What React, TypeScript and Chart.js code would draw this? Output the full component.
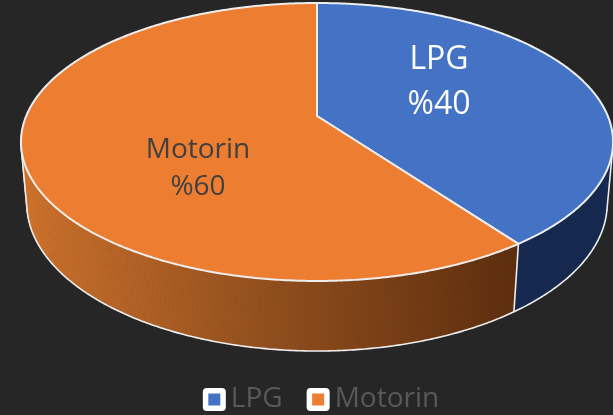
import React, { useEffect, useRef } from "react";
import { Chart, registerables } from "chart.js";

Chart.register(...registerables);

const categories = ["LPG", "Motorin"];
const shares = [40, 60];
const shareLabels = ["%40", "%60"];
const sliceColors = ["#4472C4", "#ED7D31"];
const labelColors = ["#FFFFFF", "#404040"];
const labelFontSizes = [32, 28];
const labelOffsets = [[122, -56, -11], [-119, 34, 71]]; // x, first line y, second line y (from apex)

const BG = "#262626";
const EDGE = "#EDEDED";
const FONT = "'Open Sans', sans-serif";
const LEGEND_COLOR = "#595959";
const LEGEND_SIZE = 28;
const LEGEND_Y = 399.5;
const LEGEND_CENTER = 321;
// projective camera of the 3D pie
const CX = 317, BY = 116, A = 112.44, C = 290.8, K = -0.187, M = 0.0193, D = 63.7;

const project = (theta: number, r: number, low: boolean) => {
  const u = Math.cos(theta) * r, v = Math.sin(theta) * r;
  const w = 1 + K * v + (low ? M : 0);
  return { x: CX + (C * u) / w, y: (A * v + BY + (low ? D : 0)) / w };
};

const pie3d = {
  id: "pie3d",
  beforeDatasetsDraw(chart: any) {
    const { ctx } = chart;
    const arcs = chart.getDatasetMeta(0).data;
    const STEP = Math.PI / 360;
    // silhouette angles
    const cross = (t: number) => {
      const a = project(t, 1, false), b = project(t + 1e-3, 1, false), c = project(t, 1, true);
      return (b.x - a.x) * (c.y - a.y) - (b.y - a.y) * (c.x - a.x);
    };
    const sil: number[] = [];
    for (let t = -Math.PI / 2; t < (3 * Math.PI) / 2; t += STEP) {
      if (cross(t) * cross(t + STEP) < 0) sil.push(t);
    }
    const [tR, tL] = sil;
    ctx.save();
    ctx.lineJoin = "round";
    ctx.lineCap = "round";
    // walls
    const shade = ctx.createLinearGradient(21, 0, 514, 0);
    shade.addColorStop(0, "#CE722C");
    shade.addColorStop(0.45, "#97521F");
    shade.addColorStop(1, "#5E2E0E");
    arcs.forEach((arc: any, i: number) => {
      const fill = i === 0 ? "#172A50" : shade;
      for (let t = arc.startAngle; t < arc.endAngle; t += STEP) {
        const e = Math.min(t + STEP, arc.endAngle);
        const p = [project(t, 1, false), project(e, 1, false), project(e, 1, true), project(t, 1, true)];
        ctx.beginPath();
        p.forEach((q, n) => (n ? ctx.lineTo(q.x, q.y) : ctx.moveTo(q.x, q.y)));
        ctx.closePath();
        ctx.fillStyle = fill;
        ctx.strokeStyle = fill;
        ctx.lineWidth = 0.8;
        ctx.fill();
        ctx.stroke();
      }
    });
    // wall outlines
    ctx.strokeStyle = EDGE;
    ctx.lineWidth = 1.6;
    ctx.beginPath();
    for (let t = tR; t <= tL; t += STEP) {
      const q = project(t, 1, true);
      t === tR ? ctx.moveTo(q.x, q.y) : ctx.lineTo(q.x, q.y);
    }
    ctx.stroke();
    [tR, tL].forEach((t) => {
      const a = project(t, 1, false), b = project(t, 1, true);
      ctx.beginPath();
      ctx.moveTo(a.x, a.y);
      ctx.lineTo(b.x, b.y);
      ctx.stroke();
    });
    arcs.forEach((arc: any) => {
      if (Math.sin(arc.startAngle) > 0) {
        const a = project(arc.startAngle, 1, false), b = project(arc.startAngle, 1, true);
        ctx.beginPath();
        ctx.moveTo(a.x, a.y);
        ctx.lineTo(b.x, b.y);
        ctx.stroke();
      }
    });
    // top faces
    arcs.forEach((arc: any) => {
      ctx.beginPath();
      const o = project(0, 0, false);
      ctx.moveTo(o.x, o.y);
      for (let t = arc.startAngle; t < arc.endAngle; t += STEP) {
        const q = project(t, 1, false);
        ctx.lineTo(q.x, q.y);
      }
      const q = project(arc.endAngle, 1, false);
      ctx.lineTo(q.x, q.y);
      ctx.closePath();
      ctx.fillStyle = arc.options.backgroundColor;
      ctx.fill();
      ctx.strokeStyle = EDGE;
      ctx.lineWidth = 2;
      ctx.stroke();
    });
    // labels
    ctx.textAlign = "center";
    ctx.textBaseline = "middle";
    const apex = project(0, 0, false);
    categories.forEach((name, i) => {
      const [dx, y1, y2] = labelOffsets[i];
      ctx.font = `${labelFontSizes[i]}px ${FONT}`;
      ctx.fillStyle = labelColors[i];
      ctx.fillText(name, apex.x + dx, apex.y + y1);
      ctx.fillText(shareLabels[i], apex.x + dx, apex.y + y2);
    });
    // legend
    ctx.font = `${LEGEND_SIZE}px ${FONT}`;
    ctx.textAlign = "left";
    const BOX = 23, GAP = 5, ITEM_GAP = 24;
    const widths = categories.map((c) => ctx.measureText(c).width);
    const total = widths.reduce((s, w) => s + w + BOX + GAP, 0) + ITEM_GAP;
    let x = LEGEND_CENTER - total / 2;
    categories.forEach((name, i) => {
      ctx.beginPath();
      ctx.roundRect(x, LEGEND_Y - BOX / 2, BOX, BOX, 4);
      ctx.fillStyle = "#FFFFFF";
      ctx.fill();
      ctx.fillStyle = sliceColors[i];
      ctx.fillRect(x + 5.5, LEGEND_Y - 6, 12, 12);
      ctx.fillStyle = LEGEND_COLOR;
      ctx.fillText(name, x + BOX + GAP, LEGEND_Y);
      x += BOX + GAP + widths[i] + ITEM_GAP;
    });
    ctx.restore();
    return false;
  },
};

export default function App() {
  const ref = useRef<HTMLCanvasElement>(null);
  useEffect(() => {
    document.body.style.margin = "0";
    const chart = new Chart(ref.current!, {
      type: "pie",
      data: {
        labels: categories,
        datasets: [{ data: shares, backgroundColor: sliceColors, borderWidth: 0 }],
      },
      options: {
        responsive: false,
        animation: false,
        plugins: {
          tooltip: { enabled: false },
          legend: { display: false },
        },
      },
      plugins: [pie3d],
    } as any);
    return () => chart.destroy();
  }, []);
  return (
    <div style={{ width: 613, height: 415, background: BG }}>
      <canvas ref={ref} width={613} height={415} style={{ display: "block" }} />
    </div>
  );
}
